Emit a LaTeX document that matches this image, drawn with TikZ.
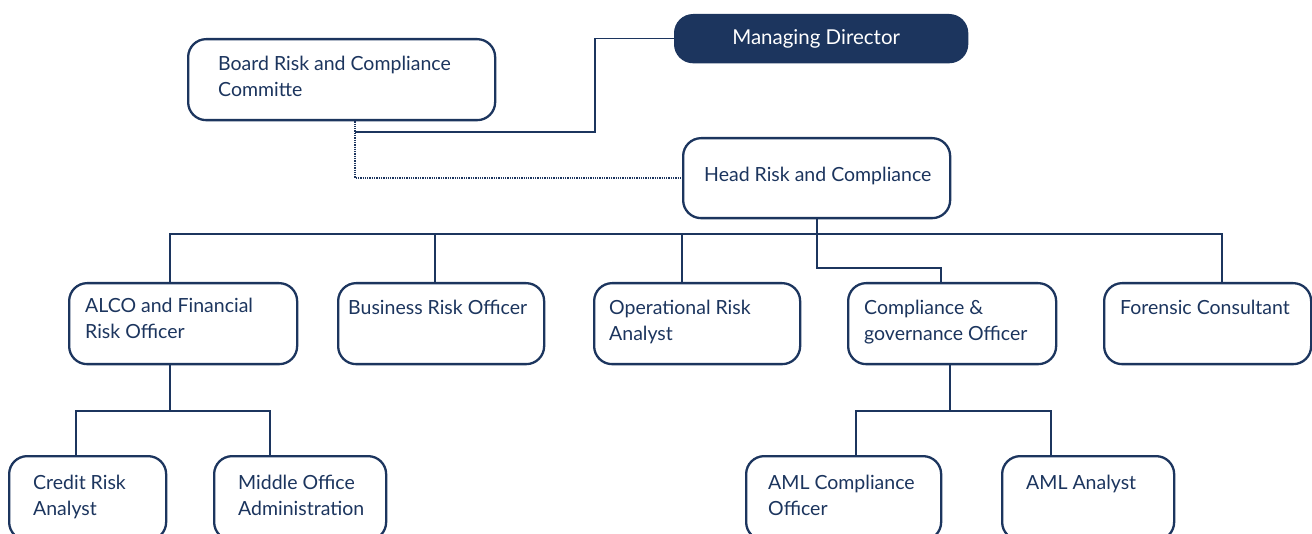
\documentclass[tikz,border=0pt]{standalone}
\usepackage{fontspec}
\setmainfont{Lato}
\usepackage{tikz}
\definecolor{navy}{HTML}{1C355E}

\begin{document}
\begin{tikzpicture}[x=1pt,y=-1pt,
  post/.style={draw=navy,fill=white,line width=2.3pt,rounded corners=18pt,anchor=north west,inner sep=0pt},
  posttext/.style={anchor=north west,inner sep=0pt,align=left,text=navy,font=\fontsize{19.5}{26}\selectfont},
  link/.style={draw=navy,line width=1.7pt},
  dotlink/.style={draw=navy,line width=1.3pt,densely dotted}]
  \useasboundingbox (0,0) rectangle (1312,534);
  \clip (0,0) rectangle (1312,534);

  \node[post,fill=navy,minimum width=292,minimum height=47,text=white,
        font=\fontsize{20.5}{26}\selectfont] (md) at (674,14) {Managing Director\hspace*{10pt}};

  % name/x/y/width/height/text x/text y/text
  \foreach \n/\bx/\by/\bw/\bh/\tx/\ty/\txt in {
      board/187/38/307/81/218/56/{Board Risk and Compliance\\Committe},
      head/682/137/267/80/704/167/{Head Risk and Compliance},
      alco/68/282/228/81/85/298/{ALCO and Financial\\Risk Officer},
      business/337/282/206/81/348/300/{Business Risk Officer},
      oper/593/282/206/81/609/300/{Operational Risk\\Analyst},
      compl/847/282/208/81/864/300/{Compliance \&\\governance Officer},
      forensic/1103/282/207/81/1120/300/{Forensic Consultant},
      credit/8/455/157/84/33/475/{Credit Risk\\Analyst},
      middle/213/455/172/84/238/475/{Middle Office\\Administration},
      amlc/745/455/195/84/768/475/{AML Compliance\\Officer},
      amla/1001/455/172/84/1026/475/{AML Analyst}} {
    \node[post,minimum width=\bw,minimum height=\bh] (\n) at (\bx,\by) {};
    \node[posttext] (\n-t) at (\tx,\ty) {\txt};
  }

  \coordinate (bend) at (355,132);
  \draw[link] (md.west) -| (595,132) -- (bend);
  \draw[dotlink] (board.south -| bend) -- (bend) |- (head.west);

  \draw[link] (alco.north -| 170,0) -- (170,234) -| (forensic.north -| 1222,0);
  \foreach \n/\x in {business/435,oper/682}
    \draw[link] (\n.north -| \x,0) -- (\x,234);
  \draw[link] (head.south -| 817,0) -- (817,268) -| (compl.north -| 941,0);

  \coordinate (alco-j) at (170,411);
  \draw[link] (alco.south -| alco-j) -- (alco-j);
  \draw[link] (credit.north -| 76,0) |- (alco-j) -| (middle.north -| 270,0);

  \coordinate (compl-j) at (950,411);
  \draw[link] (compl.south -| compl-j) -- (compl-j);
  \draw[link] (amlc.north -| 856,0) |- (compl-j) -| (amla.north -| 1051,0);
\end{tikzpicture}
\end{document}
